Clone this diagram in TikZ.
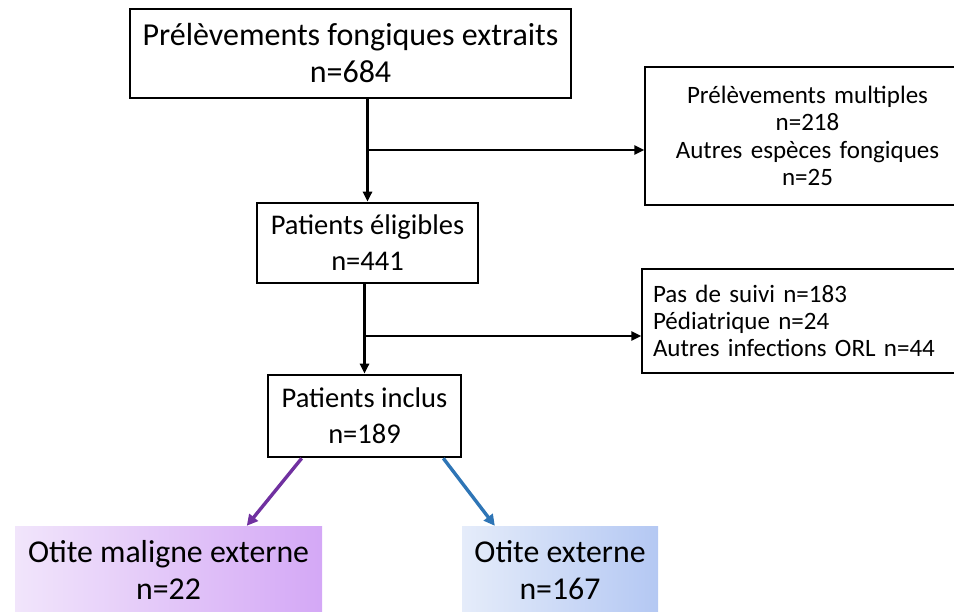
\documentclass[tikz,border=0pt]{standalone}
\usepackage{fontspec}
\setmainfont{Carlito}
\usetikzlibrary{arrows.meta,calc}
\definecolor{moeleft}{RGB}{241,229,251}
\definecolor{moeright}{RGB}{212,168,246}
\definecolor{oeleft}{RGB}{229,236,250}
\definecolor{oeright}{RGB}{180,200,243}
\definecolor{moearrow}{RGB}{112,48,160}
\definecolor{oearrow}{RGB}{46,117,182}
\tikzset{
  box-main/.style={
    draw=black,
    line width=2.6pt,
    align=center,
    inner sep=0pt,
    font=\fontsize{28.5}{36}\selectfont
  },
  box-side/.style={
    draw=black,
    line width=1.3pt,
    inner sep=0pt,
    font=\fontsize{25}{27.5}\selectfont
  },
  box-out/.style={
    align=center,
    inner sep=0pt,
    font=\fontsize{31.8}{37}\selectfont
  },
  flow/.style={
    line width=2.5pt,
    -{Triangle[length=10pt,width=9pt]}
  },
  flow-color/.style={
    line width=3.4pt,
    -{Triangle[length=11pt,width=11pt]}
  }
}
\begin{document}
\begin{tikzpicture}[x=1pt,y=-1pt]
  \useasboundingbox (0,0) rectangle (954,612);
  % main column
  \node[box-main, minimum width=441pt, minimum height=89pt,
        font=\fontsize{32}{37}\selectfont] (extraits)
    at (350.5,53.5) {Prélèvements fongiques extraits\\n=684};
  \node[box-main, minimum width=221pt, minimum height=80pt] (eligibles)
    at (367.5,243) {Patients éligibles\\n=441};
  \node[box-main, minimum width=193pt, minimum height=82pt] (inclus)
    at (364.5,416) {Patients inclus\\n=189};
  % exclusions
  \node[box-side, minimum width=325pt, minimum height=138pt,
        align=center, text width=325pt] (excl1)
    at (807.5,136) {Prélèvements multiples\\n=218\\Autres espèces fongiques\\n=25};
  \node[box-side, minimum width=328pt, minimum height=104pt,
        align=left, text width=306pt, font=\fontsize{25}{27}\selectfont] (excl2)
    at (806,321) {Pas de suivi n=183\\Pédiatrique n=24\\Autres infections ORL n=44\par\vspace*{11pt}};
  % outcomes
  \node[box-out, minimum width=307pt, minimum height=88pt,
        left color=moeleft, right color=moeright] (moe)
    at (168.5,570) {Otite maligne externe\\n=22};
  \node[box-out, minimum width=196pt, minimum height=88pt,
        left color=oeleft, right color=oeright] (oe)
    at (560,570) {Otite externe\\n=167};
  % connectors
  \coordinate (split1) at (eligibles.north |- 0,150);
  \coordinate (split2) at (inclus.north |- 0,336);
  \draw[flow] (eligibles.north |- extraits.south) -- (eligibles.north);
  \draw[flow] (split1) -- (split1 -| excl1.west);
  \draw[flow] (inclus.north |- eligibles.south) -- (inclus.north);
  \draw[flow] (split2) -- (split2 -| excl2.west);
  \draw[flow-color, draw=moearrow, fill=moearrow]
    ($(inclus.south west)+(35,0)$) -- ($(moe.north west)+(232,0)$);
  \draw[flow-color, draw=oearrow, fill=oearrow]
    ($(inclus.south east)+(-19,0)$) -- ($(oe.north west)+(33,0)$);
\end{tikzpicture}
\end{document}
